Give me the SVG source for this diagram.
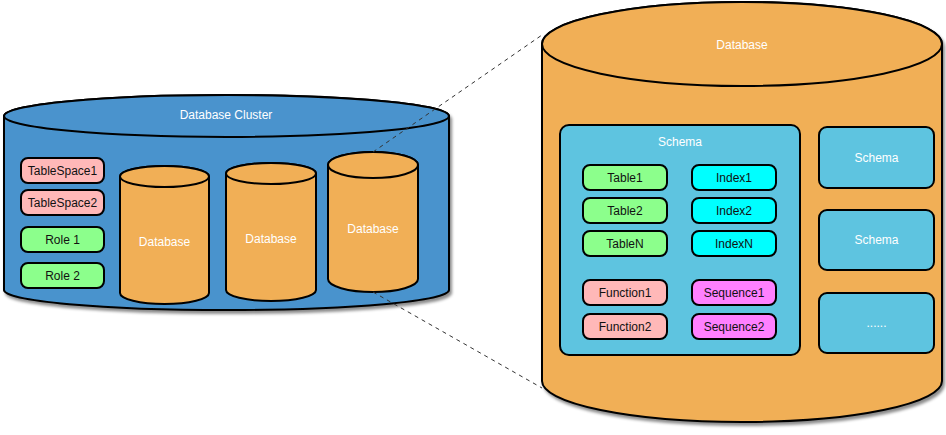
<svg xmlns="http://www.w3.org/2000/svg" width="946" height="435" viewBox="0 0 946 435">
<defs>
<filter id="sh" x="-5%" y="-5%" width="115%" height="120%">
<feDropShadow dx="2" dy="3" stdDeviation="1.5" flood-color="#000" flood-opacity="0.45"/>
</filter>
<style>
.o{stroke:#000;stroke-width:2}
.blue{fill:#4A93CD}
.org{fill:#F1AF56}
.sch{fill:#5EC4E0}
.gr{fill:#8CFF8C}
.pk{fill:#FFB8B8}
.cy{fill:#00FFFF}
.mg{fill:#FF80FF}
text{font-family:"Liberation Sans",Arial,sans-serif;font-size:12px;text-anchor:middle}
.w{fill:#fff}
.k{fill:#111}
.dash{fill:none;stroke:#333;stroke-width:1;stroke-dasharray:4 4}
</style>
</defs>

<g id="cluster">
<path class="o blue" filter="url(#sh)" d="M4,116 A222.5,21 0 0 1 449,116 L449,290 A222.5,20 0 0 1 4,290 Z"/>
<ellipse class="o blue" cx="226.5" cy="116" rx="222.5" ry="21"/>
<text class="w" x="226" y="119">Database Cluster</text>
</g>

<g id="tablespace1"><rect class="o pk" x="21" y="158" width="83" height="25" rx="7"/><text class="k" x="62.5" y="175">TableSpace1</text></g>
<g id="tablespace2"><rect class="o pk" x="21" y="190" width="83" height="25" rx="7"/><text class="k" x="62.5" y="207">TableSpace2</text></g>
<g id="role1"><rect class="o gr" x="21" y="227" width="83" height="25" rx="7"/><text class="k" x="62.5" y="244">Role 1</text></g>
<g id="role2"><rect class="o gr" x="21" y="263" width="83" height="25" rx="7"/><text class="k" x="62.5" y="280">Role 2</text></g>

<g id="db1">
<path class="o org" d="M120,176.5 A44.5,10.5 0 0 1 209,176.5 L209,293 A44.5,11 0 0 1 120,293 Z"/>
<ellipse class="o org" cx="164.5" cy="176.5" rx="44.5" ry="10.5"/>
<text class="w" x="164.5" y="246">Database</text>
</g>
<g id="db2">
<path class="o org" d="M226,173.5 A45,10.5 0 0 1 316,173.5 L316,290 A45,11 0 0 1 226,290 Z"/>
<ellipse class="o org" cx="271" cy="173.5" rx="45" ry="10.5"/>
<text class="w" x="271" y="243">Database</text>
</g>
<g id="db3">
<path class="o org" d="M328,165 A45,13 0 0 1 418,165 L418,279 A45,13 0 0 1 328,279 Z"/>
<ellipse class="o org" cx="373" cy="165" rx="45" ry="13"/>
<text class="w" x="373" y="233">Database</text>
</g>

<g id="database">
<path class="o org" filter="url(#sh)" d="M542,44 A200,42 0 0 1 942,44 L942,381 A200,41 0 0 1 542,381 Z"/>
<ellipse class="o org" cx="742" cy="44" rx="200" ry="42"/>
<text class="w" x="742" y="49">Database</text>
</g>

<g id="schema-main">
<rect class="o sch" x="560" y="125" width="240" height="230" rx="9"/>
<text class="w" x="680" y="146">Schema</text>
</g>
<g id="table1"><rect class="o gr" x="583" y="165" width="84" height="25" rx="7"/><text class="k" x="625" y="182">Table1</text></g>
<g id="table2"><rect class="o gr" x="583" y="198" width="84" height="25" rx="7"/><text class="k" x="625" y="215">Table2</text></g>
<g id="tablen"><rect class="o gr" x="583" y="231" width="84" height="25" rx="7"/><text class="k" x="625" y="248">TableN</text></g>
<g id="index1"><rect class="o cy" x="692" y="165" width="84" height="25" rx="7"/><text class="k" x="734" y="182">Index1</text></g>
<g id="index2"><rect class="o cy" x="692" y="198" width="84" height="25" rx="7"/><text class="k" x="734" y="215">Index2</text></g>
<g id="indexn"><rect class="o cy" x="692" y="231" width="84" height="25" rx="7"/><text class="k" x="734" y="248">IndexN</text></g>
<g id="function1"><rect class="o pk" x="583" y="280" width="84" height="25" rx="7"/><text class="k" x="625" y="297">Function1</text></g>
<g id="function2"><rect class="o pk" x="583" y="314" width="84" height="25" rx="7"/><text class="k" x="625" y="331">Function2</text></g>
<g id="sequence1"><rect class="o mg" x="692" y="280" width="84" height="25" rx="7"/><text class="k" x="734" y="297">Sequence1</text></g>
<g id="sequence2"><rect class="o mg" x="692" y="314" width="84" height="25" rx="7"/><text class="k" x="734" y="331">Sequence2</text></g>

<g id="schema2"><rect class="o sch" x="819" y="127" width="115" height="61" rx="8"/><text class="w" x="876.5" y="162">Schema</text></g>
<g id="schema3"><rect class="o sch" x="819" y="210" width="115" height="60" rx="8"/><text class="w" x="876.5" y="244">Schema</text></g>
<g id="schema4"><rect class="o sch" x="819" y="293" width="115" height="60" rx="8"/><text class="w" x="876.5" y="327">......</text></g>

<g id="connectors">
<line class="dash" x1="373" y1="152" x2="542" y2="35"/>
<line class="dash" x1="373" y1="292" x2="542" y2="388"/>
</g>
</svg>
